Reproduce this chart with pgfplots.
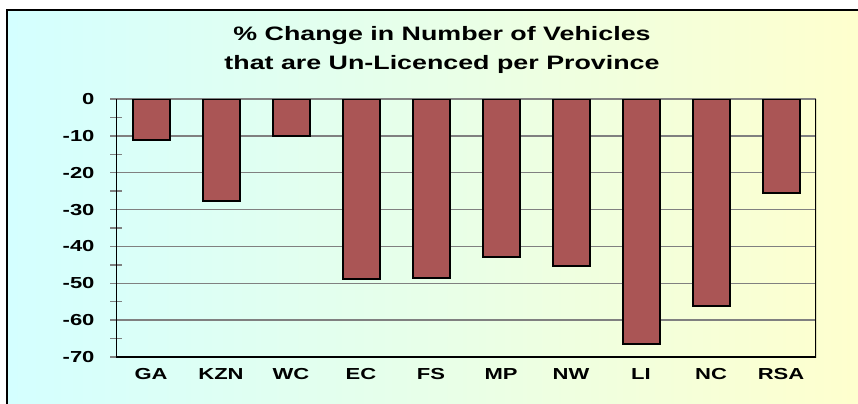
\documentclass[border=0pt]{standalone}
\usepackage{fontspec}
\setmainfont[FakeStretch=1.38]{Liberation Sans}
\usepackage{pgfplots}
\pgfplotsset{compat=1.18}
\definecolor{barred}{RGB}{170,85,85}
\definecolor{bgl}{RGB}{212,255,255}
\definecolor{bgm}{RGB}{232,255,232}
\definecolor{bgr}{RGB}{255,255,205}
\definecolor{gridgray}{RGB}{128,128,128}

\begin{document}
\begin{tikzpicture}[x=1bp,y=1bp]
\useasboundingbox (0,0) rectangle (858,403);
\begin{scope}
  \clip (0,0) rectangle (858,403);
  \shade[left color=bgl, right color=bgr, middle color=bgm] (7,-5) rectangle (870,393);
  \draw[line width=2bp] (7,-5) -- (7,393) -- (870,393);
\end{scope}
\node[anchor=base, font=\bfseries\fontsize{19.5}{24}\selectfont] at (442,363) {\% Change in Number of Vehicles};
\node[anchor=base, font=\bfseries\fontsize{19.5}{24}\selectfont] at (442,334) {that are Un-Licenced per Province};
\begin{axis}[
  at={(116bp,46bp)}, anchor=south west,
  scale only axis, width=700bp, height=258bp,
  xmin=-0.5, xmax=9.5, ymin=-70, ymax=0,
  ybar, bar width=37bp,
  axis line style={draw=none},
  ytick={-70,-60,...,0},
  minor ytick={-65,-55,...,-5},
  ytick pos=left, xtick pos=bottom,
  ymajorgrids, major grid style={gridgray, line width=1.3bp},
  tick align=center,
  major tick length=12bp, minor tick length=12bp,
  every tick/.style={gridgray, line width=1.3bp},
  xtick={0,...,9},
  xticklabels={GA,KZN,WC,EC,FS,MP,NW,LI,NC,RSA},
  x tick style={draw=none},
  minor xtick={-0.5,0.5,...,9.5},
  minor x tick style={gridgray, line width=1.3bp},
  ticklabel style={font=\bfseries\fontsize{16}{19}\selectfont},
  /pgf/number format/assume math mode=true,
  yticklabel style={xshift=-12bp},
  xticklabel style={yshift=-2bp},
]
\addplot[fill=barred, draw=black, line width=2bp] coordinates {
  (0,-11.0) (1,-27.8) (2,-10.0) (3,-48.9) (4,-48.5)
  (5,-43.0) (6,-45.2) (7,-66.5) (8,-56.2) (9,-25.6)
};
\draw[black, line width=1.6bp] (axis cs:-0.5,0) -- (axis cs:-0.5,-70) -- (axis cs:9.5,-70) -- (axis cs:9.5,0);
\end{axis}
\end{tikzpicture}
\end{document}
